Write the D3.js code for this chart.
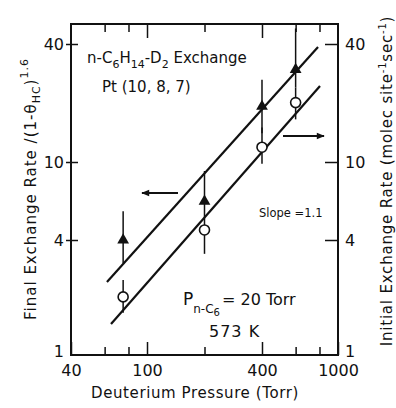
<!DOCTYPE html>
<html>
<head>
<meta charset="utf-8">
<script src="https://cdn.jsdelivr.net/npm/d3@7"></script>
<style>
  body { margin: 0; background: #fff; }
  svg text { font-family: "DejaVu Sans", sans-serif; fill: #111; }
</style>
</head>
<body>
<div id="chart"></div>
<script>
// data
var pressure = [75, 200, 400, 600];            // Torr
var finalRate = [4.0, 6.3, 19.2, 29.6];        // left axis, triangles
var finalErr = [[3.05, 5.6], [5.0, 9.0], [14, 26.3], [24, 48]];
var initialRate = [2.05, 4.5, 11.9, 20.1];     // right axis, circles
var initialErr = [[1.7, 2.5], [3.4, 5.0], [9.8, 15], [16.5, 24]];
// fitted lines (slope = 1.1), end points
var fitFinal = [[61.7, 2.44], [786, 38.6]];
var fitInitial = [[64.8, 1.49], [805, 24.4]];

var xMajor = [40, 100, 400, 1000];
var xMinor = [60, 80, 200, 600, 800];
var yTicks = [1, 4, 10, 40];

// frame of the plot
var frame = {left: 71, right: 338, top: 24, bottom: 355};

var svg = d3.select("#chart")
  .append("svg")
    .attr("width", 396)
    .attr("height", 408);

var x = d3.scaleLog().domain([40, 1000]).range([frame.left, frame.right]);
var y = d3.scaleLog().domain([1, 40]).range([358, 44]);

// axes
function clean(g) {
  g.select(".domain").remove();
  g.selectAll(".tick line").attr("stroke", "#111").attr("stroke-width", 1.5);
  g.selectAll(".tick text").style("font-size", "16px").attr("fill", "#111");
}

svg.append("g").attr("transform", "translate(0," + frame.bottom + ")")
  .call(d3.axisBottom(x).tickValues(xMajor).tickFormat(d3.format("d"))
    .tickSizeInner(-13).tickSizeOuter(0).tickPadding(10))
  .call(clean);
svg.append("g").attr("transform", "translate(0," + frame.bottom + ")")
  .call(d3.axisBottom(x).tickValues(xMinor).tickFormat("").tickSizeInner(-8).tickSizeOuter(0))
  .call(clean);
svg.append("g").attr("transform", "translate(0," + frame.top + ")")
  .call(d3.axisTop(x).tickValues([100, 400]).tickFormat("").tickSizeInner(-14).tickSizeOuter(0))
  .call(clean);
svg.append("g").attr("transform", "translate(0," + frame.top + ")")
  .call(d3.axisTop(x).tickValues(xMinor).tickFormat("").tickSizeInner(-8).tickSizeOuter(0))
  .call(clean);

var yl = svg.append("g").attr("transform", "translate(" + frame.left + ",0)")
  .call(d3.axisLeft(y).tickValues(yTicks).tickFormat(d3.format("d"))
    .tickSizeInner(5).tickSizeOuter(0).tickPadding(2))
  .call(clean);
svg.append("g").attr("transform", "translate(" + frame.left + ",0)")
  .call(d3.axisLeft(y).tickValues(yTicks.slice(1)).tickFormat("").tickSizeInner(-7).tickSizeOuter(0))
  .call(clean);
var yr = svg.append("g").attr("transform", "translate(" + frame.right + ",0)")
  .call(d3.axisRight(y).tickValues(yTicks).tickFormat(d3.format("d"))
    .tickSizeInner(-13).tickSizeOuter(0).tickPadding(7))
  .call(clean);
[yl, yr].forEach(function(g) {
  var one = g.selectAll(".tick").filter(function(d) { return d === 1; });
  one.select("line").remove();
  one.select("text").attr("dy", "-0.1em");
});

// frame
svg.append("rect")
  .attr("x", frame.left).attr("y", frame.top)
  .attr("width", frame.right - frame.left).attr("height", frame.bottom - frame.top)
  .attr("fill", "none").attr("stroke", "#111").attr("stroke-width", 2);

// fitted lines
var line = d3.line().x(function(d) { return x(d[0]); }).y(function(d) { return y(d[1]); });
[fitFinal, fitInitial].forEach(function(f) {
  svg.append("path").attr("d", line(f))
    .attr("fill", "none").attr("stroke", "#111").attr("stroke-width", 2.2);
});

// error bars
pressure.forEach(function(p, i) {
  [finalErr[i], initialErr[i]].forEach(function(e) {
    svg.append("line")
      .attr("x1", x(p)).attr("x2", x(p))
      .attr("y1", y(e[0])).attr("y2", y(e[1]))
      .attr("stroke", "#111").attr("stroke-width", 1.5);
  });
});

// triangles
svg.selectAll(".tri")
  .data(pressure)
  .enter().append("path")
    .attr("class", "tri")
    .attr("d", d3.symbol().type(d3.symbolTriangle).size(60))
    .attr("transform", function(d, i) { return "translate(" + x(d) + "," + y(finalRate[i]) + ")"; })
    .attr("fill", "#111");

// circles
svg.selectAll(".circ")
  .data(pressure)
  .enter().append("circle")
    .attr("class", "circ")
    .attr("cx", function(d) { return x(d); })
    .attr("cy", function(d, i) { return y(initialRate[i]); })
    .attr("r", 5)
    .attr("fill", "#fff").attr("stroke", "#111").attr("stroke-width", 1.6);

// arrows
var defs = svg.append("defs");
defs.append("marker")
  .attr("id", "head").attr("viewBox", "0 0 10 10")
  .attr("refX", 9).attr("refY", 5)
  .attr("markerWidth", 10).attr("markerHeight", 8)
  .attr("orient", "auto-start-reverse").attr("markerUnits", "userSpaceOnUse")
  .append("path").attr("d", "M0,1 L10,5 L0,9 Z").attr("fill", "#111");

svg.append("line").attr("x1", 178).attr("x2", 142).attr("y1", 193).attr("y2", 193)
  .attr("stroke", "#111").attr("stroke-width", 1.8).attr("marker-end", "url(#head)");
svg.append("line").attr("x1", 283).attr("x2", 324).attr("y1", 136).attr("y2", 136)
  .attr("stroke", "#111").attr("stroke-width", 1.8).attr("marker-end", "url(#head)");

// annotations
var t1 = svg.append("text").attr("x", 87).attr("y", 63).style("font-size", "15px");
t1.append("tspan").text("n-C");
t1.append("tspan").attr("dy", 5).style("font-size", "11px").text("6");
t1.append("tspan").attr("dy", -5).text("H");
t1.append("tspan").attr("dy", 5).style("font-size", "11px").text("14");
t1.append("tspan").attr("dy", -5).text("-D");
t1.append("tspan").attr("dy", 5).style("font-size", "11px").text("2");
t1.append("tspan").attr("dy", -5).text(" Exchange");

svg.append("text").attr("x", 102).attr("y", 92).style("font-size", "15px").text("Pt (10, 8, 7)");

svg.append("text").attr("x", 259).attr("y", 217).style("font-size", "11.5px").text("Slope =1.1");

var t2 = svg.append("text").attr("x", 183).attr("y", 305).style("font-size", "17px");
t2.append("tspan").text("P");
t2.append("tspan").attr("dy", 8).style("font-size", "12px").text("n-C");
t2.append("tspan").attr("dy", 3).style("font-size", "10px").text("6");
t2.append("tspan").attr("dy", -11).attr("dx", 2).style("font-size", "16px").text("= 20 Torr");

svg.append("text").attr("x", 209).attr("y", 337).style("font-size", "16px")
  .style("letter-spacing", "1px").text("573 K");

// axis titles
svg.append("text").attr("x", 195).attr("y", 398).attr("text-anchor", "middle")
  .style("font-size", "15px").style("letter-spacing", "0.6px")
  .text("Deuterium  Pressure (Torr)");

var tl = svg.append("text")
  .attr("transform", "translate(36,189) rotate(-90)")
  .attr("text-anchor", "middle").style("font-size", "15px")
  .style("letter-spacing", "1px");
tl.append("tspan").text("Final Exchange Rate /(1-θ");
tl.append("tspan").attr("dy", 4).style("font-size", "11px").text("HC");
tl.append("tspan").attr("dy", -4).text(")");
tl.append("tspan").attr("dy", -8).style("font-size", "11px").text("1.6");

var tr = svg.append("text")
  .attr("transform", "translate(392,181) rotate(-90)")
  .attr("text-anchor", "middle").style("font-size", "15px")
  .style("letter-spacing", "0.8px");
tr.append("tspan").text("Initial Exchange Rate (molec site");
tr.append("tspan").attr("dy", -6).style("font-size", "10px").text("-1");
tr.append("tspan").attr("dy", 6).text("sec");
tr.append("tspan").attr("dy", -6).style("font-size", "10px").text("-1");
tr.append("tspan").attr("dy", 6).text(")");
</script>
</body>
</html>
